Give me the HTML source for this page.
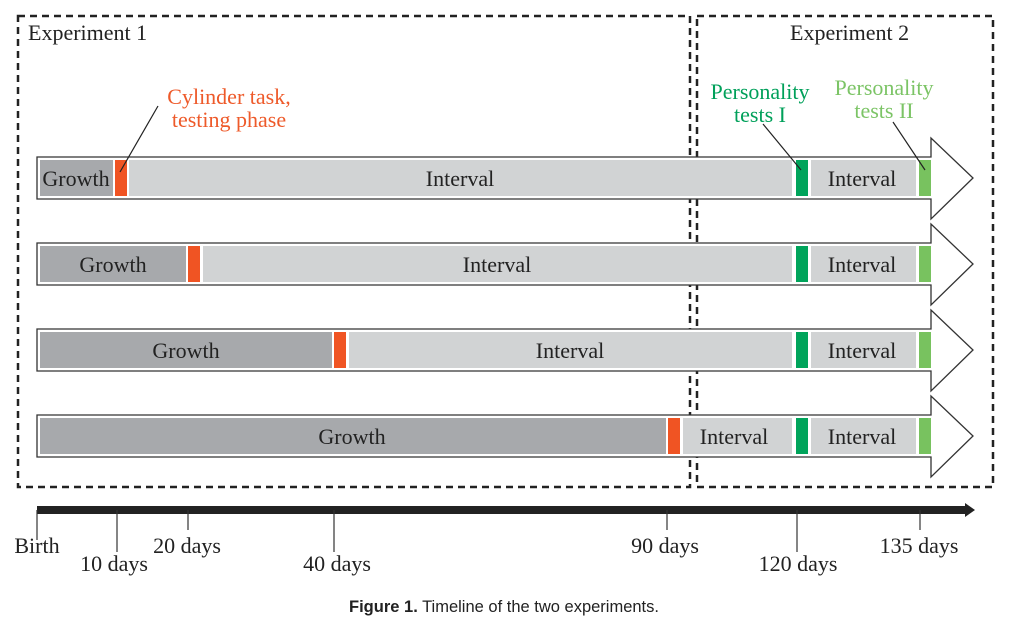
<!DOCTYPE html>
<html><head><style>body{margin:0;background:#fff}</style></head><body>
<svg width="1023" height="621" xmlns="http://www.w3.org/2000/svg" font-family="Liberation Serif, serif">
<rect x="0" y="0" width="1023" height="621" fill="#fff"/>
<g fill="none" stroke="#222" stroke-width="2.5" stroke-dasharray="7,5">
<rect x="18" y="16" width="672" height="471"/>
<rect x="697" y="16" width="296" height="471"/>
</g>
<g font-size="22" fill="#222">
<text x="28" y="40">Experiment 1</text>
<text x="790" y="40">Experiment 2</text>
</g>
<g font-size="22" text-anchor="middle">
<text x="229" y="104" fill="#ee5a2a">Cylinder task,</text>
<text x="229" y="127" fill="#ee5a2a">testing phase</text>
<text x="760" y="99" fill="#00a05a">Personality</text>
<text x="760" y="122" fill="#00a05a">tests I</text>
<text x="884" y="95" fill="#7cc466">Personality</text>
<text x="884" y="118" fill="#7cc466">tests II</text>
</g>
<g stroke="#333" stroke-width="1.3" fill="#fff">
<path d="M37 157 H931 V138 L973 178 L931 219 V199 H37 Z"/>
<path d="M37 243 H931 V224 L973 264 L931 305 V285 H37 Z"/>
<path d="M37 329 H931 V310 L973 350 L931 391 V371 H37 Z"/>
<path d="M37 415 H931 V396 L973 436 L931 477 V457 H37 Z"/>
</g>
<g font-size="22" fill="#222" text-anchor="middle">
<rect x="40" y="160" width="73" height="36" fill="#a7a9ac"/>
<rect x="115" y="160" width="12" height="36" fill="#f05423"/>
<rect x="129" y="160" width="663" height="36" fill="#d1d3d4"/>
<rect x="796" y="160" width="12" height="36" fill="#00a45b"/>
<rect x="811" y="160" width="105" height="36" fill="#d1d3d4"/>
<rect x="919" y="160" width="12" height="36" fill="#78c25f"/>
<text x="76" y="186">Growth</text><text x="460" y="186">Interval</text><text x="862" y="186">Interval</text>
<rect x="40" y="246" width="146" height="36" fill="#a7a9ac"/>
<rect x="188" y="246" width="12" height="36" fill="#f05423"/>
<rect x="203" y="246" width="589" height="36" fill="#d1d3d4"/>
<rect x="796" y="246" width="12" height="36" fill="#00a45b"/>
<rect x="811" y="246" width="105" height="36" fill="#d1d3d4"/>
<rect x="919" y="246" width="12" height="36" fill="#78c25f"/>
<text x="113" y="272">Growth</text><text x="497" y="272">Interval</text><text x="862" y="272">Interval</text>
<rect x="40" y="332" width="292" height="36" fill="#a7a9ac"/>
<rect x="334" y="332" width="12" height="36" fill="#f05423"/>
<rect x="349" y="332" width="443" height="36" fill="#d1d3d4"/>
<rect x="796" y="332" width="12" height="36" fill="#00a45b"/>
<rect x="811" y="332" width="105" height="36" fill="#d1d3d4"/>
<rect x="919" y="332" width="12" height="36" fill="#78c25f"/>
<text x="186" y="358">Growth</text><text x="570" y="358">Interval</text><text x="862" y="358">Interval</text>
<rect x="40" y="418" width="626" height="36" fill="#a7a9ac"/>
<rect x="668" y="418" width="12" height="36" fill="#f05423"/>
<rect x="683" y="418" width="109" height="36" fill="#d1d3d4"/>
<rect x="796" y="418" width="12" height="36" fill="#00a45b"/>
<rect x="811" y="418" width="105" height="36" fill="#d1d3d4"/>
<rect x="919" y="418" width="12" height="36" fill="#78c25f"/>
<text x="352" y="444">Growth</text><text x="734" y="444">Interval</text><text x="862" y="444">Interval</text>
</g>
<g stroke="#222" stroke-width="1.2">
<line x1="158" y1="106" x2="120" y2="172"/>
<line x1="763" y1="124" x2="801" y2="170"/>
<line x1="893" y1="122" x2="925" y2="170"/>
</g>
<rect x="37" y="506" width="930" height="8" fill="#222"/>
<path d="M965 503 L975 510 L965 517 Z" fill="#222"/>
<g stroke="#333" stroke-width="1.2">
<line x1="37" y1="510" x2="37" y2="540"/>
<line x1="117" y1="510" x2="117" y2="552"/>
<line x1="188" y1="510" x2="188" y2="530"/>
<line x1="334" y1="510" x2="334" y2="552"/>
<line x1="667" y1="510" x2="667" y2="530"/>
<line x1="797" y1="510" x2="797" y2="552"/>
<line x1="920" y1="510" x2="920" y2="530"/>
</g>
<g font-size="22" fill="#222" text-anchor="middle">
<text x="37" y="553">Birth</text>
<text x="114" y="571">10 days</text>
<text x="187" y="553">20 days</text>
<text x="337" y="571">40 days</text>
<text x="665" y="553">90 days</text>
<text x="798" y="571">120 days</text>
<text x="919" y="553">135 days</text>
</g>
<text x="504" y="612" font-size="16.5" font-family="Liberation Sans, sans-serif" fill="#222" text-anchor="middle"><tspan font-weight="bold">Figure 1.</tspan> Timeline of the two experiments.</text>
</svg>
</body></html>
